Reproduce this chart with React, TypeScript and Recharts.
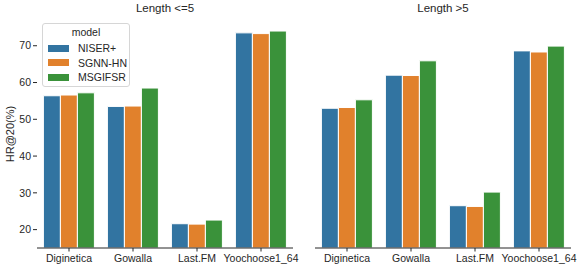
import React from 'react';
import { BarChart, Bar, XAxis, YAxis } from 'recharts';

const datasets = ['Diginetica', 'Gowalla', 'Last.FM', 'Yoochoose1_64'];
const models = ['NISER+', 'SGNN-HN', 'MSGIFSR'];
const colors = ['#3274a1', '#e1812c', '#3a923a'];
const yTicks = [20, 30, 40, 50, 60, 70];

// HR@20 values, sessions with length <= 5
const shortNiser = [56.4, 53.5, 21.6, 73.5];
const shortSgnn = [56.6, 53.6, 21.5, 73.3];
const shortMsgifsr = [57.2, 58.5, 22.6, 74.0];

// HR@20 values, sessions with length > 5
const longNiser = [53.0, 62.0, 26.5, 68.6];
const longSgnn = [53.2, 61.9, 26.3, 68.3];
const longMsgifsr = [55.3, 65.9, 30.2, 69.9];

const font = '"Liberation Sans", Arial, sans-serif';
const textColor = '#262626';

const build = (a: number[], b: number[], c: number[]) =>
  datasets.map((name, i) => ({ name, [models[0]]: a[i], [models[1]]: b[i], [models[2]]: c[i] }));

const shortData = build(shortNiser, shortSgnn, shortMsgifsr);
const longData = build(longNiser, longSgnn, longMsgifsr);

const tickStyle = { fontSize: 10.5, fill: textColor, fontFamily: font };

const Panel = ({ data, width, axisWidth, right, showLabels }: any) => (
  <BarChart
    width={width}
    height={270}
    data={data}
    margin={{ top: 20, right, left: 0, bottom: 0 }}
    barCategoryGap="10%"
    barGap={0}
  >
    <XAxis
      dataKey="name"
      height={22}
      tick={tickStyle}
      tickSize={3.5}
      tickMargin={3}
      stroke={textColor}
      interval={0}
    />
    <YAxis
      width={axisWidth}
      domain={[15, 77]}
      ticks={yTicks}
      allowDataOverflow
      axisLine={false}
      tick={showLabels ? tickStyle : false}
      tickSize={4}
      tickMargin={2}
      stroke={textColor}
    />
    {models.map((m, i) => (
      <Bar key={m} dataKey={m} fill={colors[i]} stroke="#ffffff" strokeWidth={1} isAnimationActive={false} />
    ))}
  </BarChart>
);

export default function App() {
  return (
    <div style={{ position: 'absolute', left: 0, top: 0, width: 582, height: 270, background: '#fff', fontFamily: font, color: textColor }}>
      <div style={{ position: 'absolute', left: 0, top: 0 }}>
        <Panel data={shortData} width={300} axisWidth={37} right={7} showLabels />
      </div>
      <div style={{ position: 'absolute', left: 291, top: 0 }}>
        <Panel data={longData} width={291} axisWidth={24} right={11} showLabels={false} />
      </div>
      <div style={{ position: 'absolute', left: 37, width: 256, top: 2, textAlign: 'center', fontSize: 11.5 }}>Length &lt;=5</div>
      <div style={{ position: 'absolute', left: 315, width: 256, top: 2, textAlign: 'center', fontSize: 11.5 }}>Length &gt;5</div>
      <div
        style={{
          position: 'absolute', left: 10, top: 134, fontSize: 11, whiteSpace: 'nowrap',
          transform: 'translate(-50%, -50%) rotate(-90deg)',
        }}
      >
        HR@20(%)
      </div>
      <div
        style={{
          position: 'absolute', left: 42, top: 23, width: 86, height: 62, background: 'rgba(255,255,255,0.8)',
          border: '1px solid #d6d6d6', borderRadius: 3, fontSize: 10.5,
        }}
      >
        <div style={{ textAlign: 'center', marginTop: 2, height: 15 }}>model</div>
        {models.map((m, i) => (
          <div key={m} style={{ display: 'flex', alignItems: 'center', height: 14.5 }}>
            <span style={{ display: 'inline-block', width: 21, height: 7, background: colors[i], marginLeft: 5, marginRight: 9 }} />
            <span>{m}</span>
          </div>
        ))}
      </div>
    </div>
  );
}
